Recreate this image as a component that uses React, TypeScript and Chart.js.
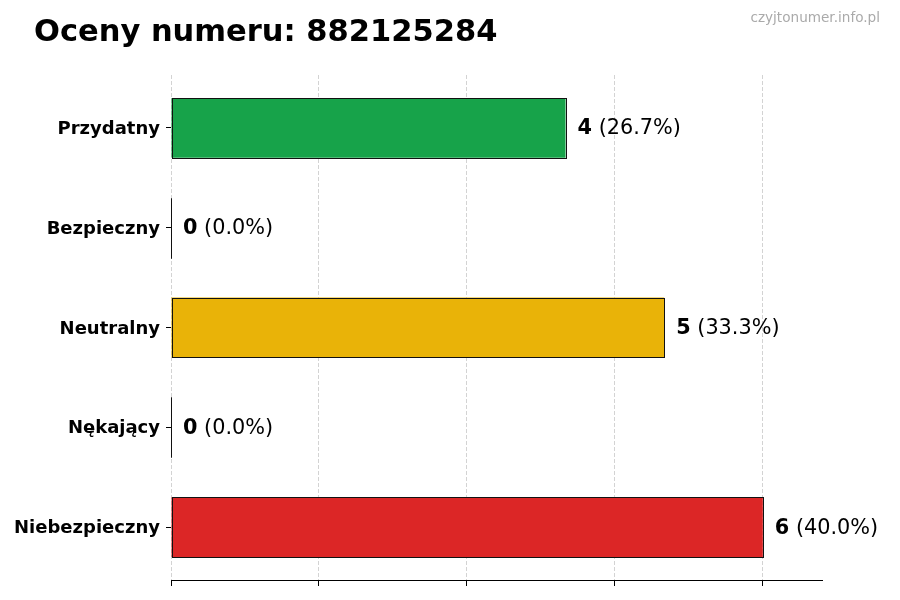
import { useEffect, useRef } from 'react';
import { Chart, registerables } from 'chart.js';

Chart.register(...registerables);

const title = 'Oceny numeru: 882125284';
const watermark = 'czyjtonumer.info.pl';
const categories = ['Przydatny', 'Bezpieczny', 'Neutralny', 'Nękający', 'Niebezpieczny'];
const counts = [4, 0, 5, 0, 6];
const barColors = ['#17a34a', '#3b82f6', '#e9b308', '#f97316', '#dc2626'];
const xTicks = [0, 1.5, 3, 4.5, 6];
const xMax = 6.6;

const FONT = "'DejaVu Sans', sans-serif";

const total = counts.reduce((a, b) => a + b, 0);

// title + watermark
const headerPlugin = {
  id: 'header',
  afterDraw(chart: any) {
    const { ctx } = chart;
    ctx.save();
    ctx.fillStyle = '#000';
    ctx.font = `bold 30.5px ${FONT}`;
    ctx.textAlign = 'left';
    ctx.textBaseline = 'alphabetic';
    ctx.fillText(title, 34, 41);
    ctx.fillStyle = '#aaaaaa';
    ctx.font = `13.6px ${FONT}`;
    ctx.textAlign = 'right';
    ctx.fillText(watermark, 880, 22);
    ctx.restore();
  },
};

// black outlines (also for zero bars) and value labels
const barLabelPlugin = {
  id: 'barLabels',
  afterDatasetsDraw(chart: any) {
    const { ctx } = chart;
    const meta = chart.getDatasetMeta(0);
    ctx.save();
    meta.data.forEach((bar: any, i: number) => {
      const { x, y, base, height } = bar.getProps(['x', 'y', 'base', 'height'], true);
      ctx.strokeStyle = '#111';
      ctx.lineWidth = 1;
      const top = Math.round(y - height / 2) + 0.5;
      const bottom = Math.round(y + height / 2) + 0.5;
      const left = Math.round(base) + 0.5;
      const right = Math.round(x) + 0.5;
      ctx.strokeRect(left, top, right - left, bottom - top);

      const pct = total ? ((counts[i] / total) * 100).toFixed(1) : '0.0';
      const lx = x + 12;
      const ly = y + 1;
      ctx.fillStyle = '#000';
      ctx.textAlign = 'left';
      ctx.textBaseline = 'middle';
      ctx.font = `bold 20.8px ${FONT}`;
      const numText = String(counts[i]);
      ctx.fillText(numText, lx, ly);
      const w = ctx.measureText(numText).width;
      ctx.font = `20.8px ${FONT}`;
      ctx.fillText(` (${pct}%)`, lx + w, ly);
    });
    ctx.restore();
  },
};

export default function App() {
  const canvasRef = useRef<HTMLCanvasElement>(null);

  useEffect(() => {
    document.body.style.margin = '0';
    if (!canvasRef.current) return;
    const chart = new Chart(canvasRef.current, {
      type: 'bar',
      data: {
        datasets: [
          {
            data: categories.map((_, i) => ({ x: counts[i], y: i })) as any,
            backgroundColor: barColors,
            borderWidth: 0,
            categoryPercentage: 1,
            barPercentage: 0.6,
          },
        ],
      },
      options: {
        indexAxis: 'y',
        responsive: false,
        animation: false,
        events: [],
        layout: { padding: { top: 75, right: 78, left: 0, bottom: 0 } },
        plugins: {
          legend: { display: false },
          tooltip: { enabled: false },
          title: { display: false },
        },
        scales: {
          y: {
            type: 'linear',
            reverse: true,
            offset: false,
            min: -0.53,
            max: categories.length - 1 + 0.53,
            afterBuildTicks: (scale: any) => {
              scale.ticks = categories.map((_, i) => ({ value: i }));
            },
            afterFit: (scale: any) => {
              scale.width = 171;
            },
            ticks: {
              autoSkip: false,
              padding: 6,
              labelOffset: 1.5,
              color: '#000',
              font: { family: FONT, size: 18, weight: 'bold' },
              callback: (v: any) => categories[v] ?? '',
            },
            grid: {
              offset: false,
              drawOnChartArea: false,
              drawTicks: true,
              tickLength: 5,
              tickColor: '#000',
              tickWidth: 1,
            },
            border: { display: false },
          },
          x: {
            type: 'linear',
            min: 0,
            max: xMax,
            z: 1,
            afterBuildTicks: (scale: any) => {
              scale.ticks = xTicks.map((v) => ({ value: v }));
            },
            afterFit: (scale: any) => {
              scale.height = 20;
            },
            ticks: { display: false },
            grid: {
              color: 'rgba(150,150,150,0.42)',
              lineWidth: 1,
              drawTicks: true,
              tickLength: 6,
              tickColor: '#000',
              tickWidth: 1,
              tickBorderDash: [],
            },
            border: { display: true, color: '#000', width: 1, dash: [4, 2] },
          },
        },
      },
      plugins: [barLabelPlugin, headerPlugin],
    });
    return () => chart.destroy();
  }, []);

  return <canvas ref={canvasRef} width={900} height={600} style={{ display: 'block' }} />;
}
